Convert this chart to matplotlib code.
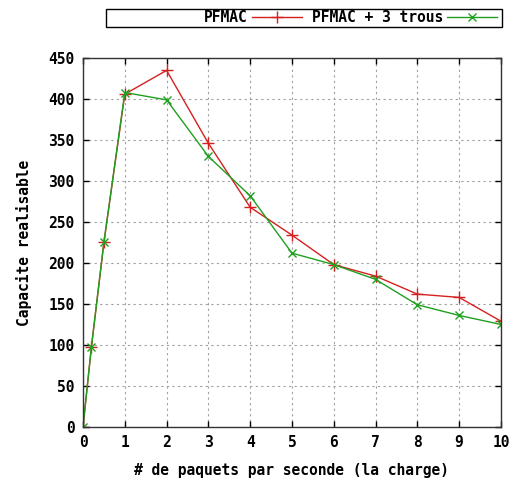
import matplotlib
matplotlib.use("Agg")
import matplotlib.pyplot as plt
from matplotlib.patches import Rectangle

# charge (paquets par seconde)
charge = [0, 0.2, 0.5, 1, 2, 3, 4, 5, 6, 7, 8, 9, 10]
pfmac = [0, 97, 225, 406, 435, 346, 268, 234, 198, 184, 162, 158, 129]
pfmac_3trous = [0, 97, 225, 408, 399, 330, 282, 212, 198, 180, 149, 136, 125]

xticks = list(range(0, 11))
yticks = list(range(0, 451, 50))

plt.rcParams['font.family'] = ['DejaVu Sans Mono']
plt.rcParams['font.weight'] = 'bold'
fs = 10.5

fig = plt.figure(figsize=(5.14, 4.84), dpi=100)
ax = fig.add_axes([0.1615, 0.118, 0.813, 0.762])

ax.plot(charge, pfmac, color='#d62020', lw=1.0, marker='+', ms=8, mew=1.0, label='PFMAC')
ax.plot(charge, pfmac_3trous, color='#1fa01f', lw=1.0, marker='x', ms=6, mew=1.0, label='PFMAC + 3 trous')

ax.set_xlim(0, 10)
ax.set_ylim(0, 450)
ax.set_xticks(xticks)
ax.set_yticks(yticks)
ax.tick_params(direction='in', top=True, right=True, length=4, width=1, labelsize=fs, pad=6)
for lab in ax.get_xticklabels() + ax.get_yticklabels():
    lab.set_fontweight('bold')
ax.grid(True, color='#a0a0a0', ls=(0, (2, 3)), lw=0.8)
for s in ax.spines.values():
    s.set_linewidth(1.0)
    s.set_color('#333333')

ax.set_xlabel('# de paquets par seconde (la charge)', fontsize=fs, fontweight='bold', labelpad=9)
ax.set_ylabel('Capacite realisable', fontsize=fs, fontweight='bold', labelpad=12)

# cadre de la legende
fig.patches.append(Rectangle((106 / 514, 1 - 27 / 484), 396 / 514, 18 / 484,
                             transform=fig.transFigure, fill=False, ec='black', lw=1.0))
leg = fig.legend(loc='center right', bbox_to_anchor=(497 / 514, 1 - 18 / 484), ncol=2,
                 frameon=False, markerfirst=False, handlelength=3.4, handletextpad=0.3,
                 columnspacing=0.7, fontsize=fs, borderaxespad=0, borderpad=0)
for t in leg.get_texts():
    t.set_fontweight('bold')

fig.savefig('out.png', dpi=100)
